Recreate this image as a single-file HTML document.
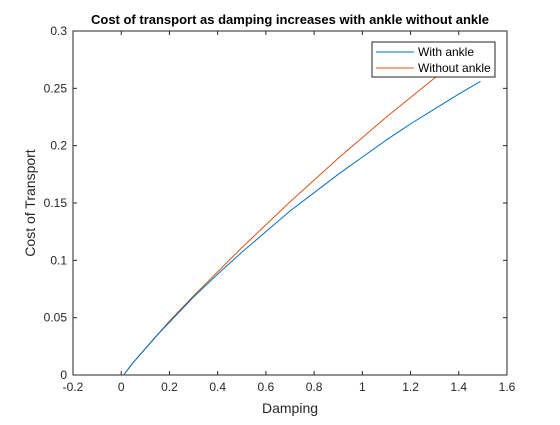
<!DOCTYPE html>
<html><head><meta charset="utf-8"><style>
body{margin:0;background:#fff;}
svg text{font-family:"Liberation Sans",sans-serif;}
</style></head><body>
<svg width="560" height="420" xmlns="http://www.w3.org/2000/svg">
<rect width="560" height="420" fill="#fff"/>
<g id="plot"></g>
</svg>
<script>
const xTicks=[-0.2,0,0.2,0.4,0.6,0.8,1,1.2,1.4,1.6];
const xTickLabels=["-0.2","0","0.2","0.4","0.6","0.8","1","1.2","1.4","1.6"];
const yTicks=[0,0.05,0.1,0.15,0.2,0.25,0.3];
const yTickLabels=["0","0.05","0.1","0.15","0.2","0.25","0.3"];
const withX=[0.01,0.05,0.1,0.15,0.2,0.3,0.4,0.5,0.6,0.7,0.8,0.9,1.0,1.1,1.2,1.3,1.4,1.49];
const withY=[0,0.011,0.023,0.035,0.046,0.068,0.088,0.107,0.125,0.143,0.159,0.175,0.19,0.205,0.219,0.232,0.245,0.256];
const withoutX=[0.01,0.05,0.1,0.15,0.2,0.3,0.4,0.5,0.6,0.7,0.8,0.9,1.0,1.1,1.2,1.3,1.4];
const withoutY=[0,0.011,0.023,0.035,0.047,0.069,0.09,0.111,0.131,0.151,0.17,0.189,0.207,0.225,0.242,0.259,0.276];
const L=73,R=507,T=31,B=375;
const sx=v=>L+(v+0.2)/1.8*(R-L);
const sy=v=>B-v/0.3*(B-T);
const NS="http://www.w3.org/2000/svg";
const g=document.getElementById('plot');
function mk(t,a,p){const e=document.createElementNS(NS,t);for(const k in a)e.setAttribute(k,a[k]);(p||g).appendChild(e);return e;}
const frame=mk('rect',{x:L,y:T,width:R-L,height:B-T,fill:'#fff',stroke:'#262626','stroke-width':1});


xTicks.forEach((v,i)=>{const x=sx(v);
mk('line',{x1:x,x2:x,y1:B,y2:B-4,stroke:'#262626'});mk('line',{x1:x,x2:x,y1:T,y2:T+4,stroke:'#262626'});
const t=mk('text',{x:x,y:B+16,'text-anchor':'middle','font-size':12,fill:'#262626'});t.textContent=xTickLabels[i];

});
yTicks.forEach((v,i)=>{const y=sy(v);
mk('line',{x1:L,x2:L+4,y1:y,y2:y,stroke:'#262626'});mk('line',{x1:R,x2:R-4,y1:y,y2:y,stroke:'#262626'});
const t=mk('text',{x:L-6,y:y+4,'text-anchor':'end','font-size':12,fill:'#262626'});t.textContent=yTickLabels[i];

});
function line(xs,ys,c,n){const p=mk('polyline',{points:xs.map((x,i)=>sx(x)+','+sy(ys[i])).join(' '),fill:'none',stroke:c,'stroke-width':1});

}
line(withoutX,withoutY,'#d95319','series-without-ankle');
line(withX,withY,'#0072bd','series-with-ankle');
const lg=mk('g',{});


mk('rect',{x:372,y:42,width:123,height:35,fill:'#fff',stroke:'#262626'},lg);
mk('line',{x1:376,x2:414,y1:52,y2:52,stroke:'#0072bd'},lg);
mk('line',{x1:376,x2:414,y1:68,y2:68,stroke:'#d95319'},lg);
let t1=mk('text',{x:418,y:56,'font-size':12,fill:'#000'},lg);t1.textContent='With ankle';


let t2=mk('text',{x:418,y:72,'font-size':12,fill:'#000'},lg);t2.textContent='Without ankle';


let ti=mk('text',{x:290,y:24,'text-anchor':'middle','font-size':13,'font-weight':'bold',fill:'#000'});ti.textContent='Cost of transport as damping increases with ankle without ankle';


let xl=mk('text',{x:290,y:413,'text-anchor':'middle','font-size':14,fill:'#262626'});xl.textContent='Damping';


let yl=mk('text',{x:0,y:0,'text-anchor':'middle','font-size':14,fill:'#262626',transform:'translate(35,203) rotate(-90)'});yl.textContent='Cost of Transport';


</script>
</body></html>
